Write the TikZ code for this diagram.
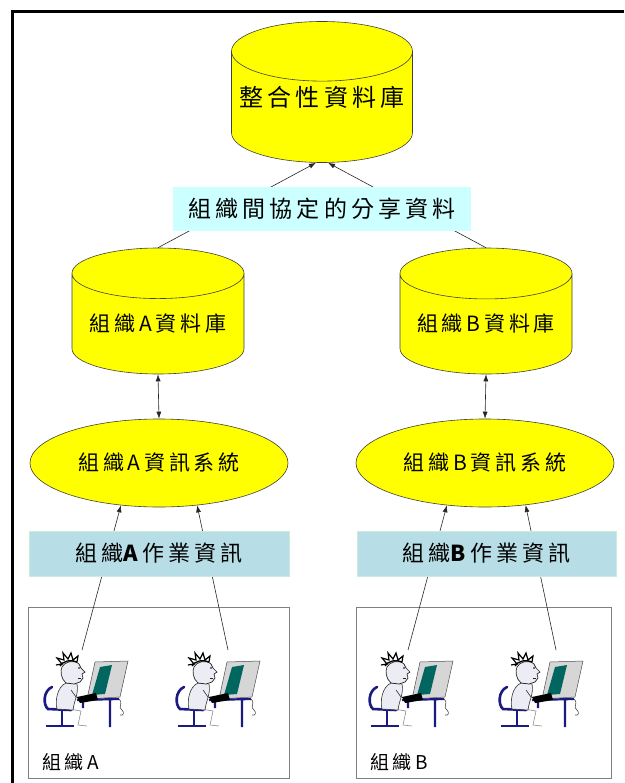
\documentclass[tikz,border=0pt]{standalone}
\usepackage{fontspec}
\usepackage{tikz}
\usetikzlibrary{shapes.geometric,arrows.meta}
\newfontfamily\cjk[LetterSpace=18]{Noto Sans CJK TC}
\definecolor{dbyellow}{HTML}{FFFF00}
\definecolor{sharecyan}{HTML}{CCFFFF}
\definecolor{opteal}{HTML}{B7DEE6}
\definecolor{opedge}{HTML}{CDEBDB}
\definecolor{chairblue}{HTML}{1A1A80}
\definecolor{skin}{HTML}{ECECF4}
\definecolor{monigray}{HTML}{D6D6D6}
\definecolor{screenteal}{HTML}{00665F}
\newcommand\worker[1]{%
  \begin{scope}[shift={#1}]
    \draw[chairblue,line width=2.6pt,line cap=round] (9,34) .. controls (0,38) and (0,52) .. (5,56) -- (28,57);
    \draw[chairblue,line width=2.4pt] (19,57) -- (19,73) (3,73) -- (31,73);
    \filldraw[fill=monigray,draw=black!70,line width=.5pt] (52,9) -- (85,8) -- (77,44) -- (44,46) -- cycle;
    \fill[screenteal] (57,14) -- (69,12) -- (62,41) -- (49,42) -- cycle;
    \draw[chairblue,line width=2.2pt] (34,47) -- (76,46) (67,46) -- (67,74) (40,47) -- (40,55);
    \draw[black!70,line width=.6pt] (76,46) .. controls (81,51) and (74,54) .. (79,57) .. controls (82,60) and (80,63) .. (77,62);
    \draw[black!45,line width=.6pt] (26,56) -- (38,58) -- (35,72) -- (44,73);
    \filldraw[fill=skin,draw=black!80,line width=.6pt] (23,30) .. controls (14,34) and (12,48) .. (14,56) -- (30,57) .. controls (31,48) and (36,40) .. (34,31) -- cycle;
    \draw[black!80,line width=.6pt] (28,37) -- (33,44) -- (40,46);
    \fill[black] (34,44) -- (53,40) -- (55,47) -- (37,50) -- cycle;
    \filldraw[fill=skin,draw=black!85,line width=.7pt] (19,14) .. controls (21,9) and (31,6) .. (36,11) -- (38,15) -- (42,19) -- (39,21) -- (40,25) -- (37,29) -- (31,31) -- (23,30) .. controls (18,26) and (17,18) .. (19,14) -- cycle;
    \draw[black!85,line width=.6pt] (35,25) -- (38,25);
    \fill[black] (36,15) circle (.9);
    \draw[black,line width=1.2pt,line join=miter] (13,12) -- (19,11) -- (14,5) -- (21,7) -- (20,0) -- (25,6) -- (28,0) -- (30,7) -- (35,3) -- (34,9);
    \draw[black,line width=1.4pt] (17,13) .. controls (20,8) and (28,6) .. (34,9);
  \end{scope}}
\begin{document}
\begin{tikzpicture}[x=1pt,y=-1pt,line width=.6pt,
  db/.style={cylinder,shape border rotate=90,draw=black!75,fill=dbyellow,inner sep=0pt,anchor=shape center},
  sys/.style={ellipse,draw=black!75,fill=dbyellow,inner sep=0pt,minimum width=258pt,minimum height=88pt,font=\cjk\fontsize{21}{24}\selectfont},
  opbox/.style={rectangle,fill=opteal,draw=opedge,inner sep=0pt,minimum width=260pt,minimum height=45pt,font=\cjk\fontsize{22}{26}\selectfont},
  orgbox/.style={rectangle,draw=black!50,line width=.9pt,fill=white,inner sep=0pt,minimum height=171pt},
  arr/.style={-{Latex[length=7pt,width=5pt]},black!85},
  dbl/.style={{Latex[length=7pt,width=5pt]}-{Latex[length=7pt,width=5pt]},black!85}]
\useasboundingbox (0,0) rectangle (624,783);
\draw[line width=3pt] (12,783) -- (12,12) -- (624,12);
\node[db,aspect=.36,minimum width=181pt,minimum height=141pt,font=\cjk\fontsize{24}{28}\selectfont] (top) at (322,92) {\raisebox{0pt}[\height][\dimexpr\depth+20pt\relax]{整合性資料庫}};
\node[db,aspect=.37,minimum width=172pt,minimum height=126pt,font=\cjk\fontsize{21}{24}\selectfont] (cA) at (158,311) {組織A資料庫};
\node[db,aspect=.37,minimum width=172pt,minimum height=126pt,font=\cjk\fontsize{21}{24}\selectfont] (cB) at (486,311) {組織B資料庫};
\node[sys] (sA) at (159,463) {組織A資訊系統};
\node[sys] (sB) at (485,463) {組織B資訊系統};
\node[orgbox,minimum width=261pt] (oA) at (158.5,692.5) {};
\node[orgbox,minimum width=255pt] (oB) at (483.5,692.5) {};
\node[anchor=west,inner sep=0pt,font=\cjk\fontsize{19}{22}\selectfont] (lA) at (42,762) {組織A};
\node[anchor=west,inner sep=0pt,font=\cjk\fontsize{19}{22}\selectfont] (lB) at (370,762) {組織B};
\worker{(43,653)}
\worker{(175,653)}
\worker{(368,653)}
\worker{(498,653)}
\coordinate (wA1) at (82,650);
\coordinate (wA2) at (228,650);
\coordinate (wB1) at (408,650);
\coordinate (wB2) at (556,650);
\draw[arr] (cA.north) -- ([xshift=-6pt]top.south);
\draw[arr] (cB.north) -- ([xshift=6pt]top.south);
\draw[dbl] (cA.south) -- (sA.north);
\draw[dbl] (cB.south) -- (sB.north);
\draw[arr] (wA1) -- (sA.228);
\draw[arr] (wA2) -- (sA.312);
\draw[arr] (wB1) -- (sB.228);
\draw[arr] (wB2) -- (sB.314);
\node[rectangle,fill=sharecyan,inner sep=0pt,minimum width=298pt,minimum height=44pt,font=\cjk\fontsize{23}{26}\selectfont] (share) at (322,209) {組織間協定的分享資料};
\node[opbox] (pA) at (159,553.5) {組織{\bfseries A}\kern4pt 作業資訊};
\node[opbox,minimum width=259pt] (pB) at (486.5,553.5) {組織{\bfseries B}\kern4pt 作業資訊};
\end{tikzpicture}
\end{document}
